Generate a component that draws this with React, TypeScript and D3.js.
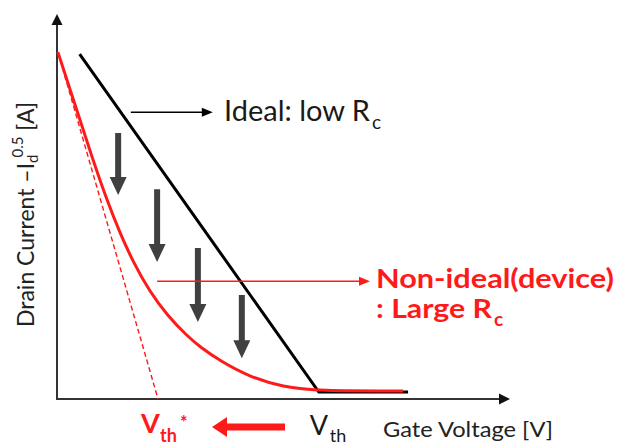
import React from "react";
import * as d3 from "d3";

// Ideal (low contact resistance) transfer curve: gate voltage vs sqrt(-Id)
const idealVg = [0.5, 5.78, 7.75];
const idealId = [8.96, 0.18, 0.18];

// Non-ideal device with large contact resistance
const deviceVg = [0.02, 0.4, 0.77, 1.1, 1.39, 1.68, 2.05, 2.43, 2.87, 3.16, 3.6, 4.26, 4.99, 5.76, 7.64];
const deviceId = [9.01, 7.64, 6.29, 5.17, 4.31, 3.56, 2.78, 2.18, 1.64, 1.35, 0.99, 0.57, 0.31, 0.21, 0.21];

// Linear extrapolation of the device curve down to the voltage axis
const tangentVg = [0.02, 2.23];
const tangentId = [9.01, 0];

// Downward shift arrows between the two curves
const shiftVg = [1.35, 2.21, 3.11, 4.08];
const shiftFrom = [6.91, 5.45, 3.92, 2.7];
const shiftTo = [5.3, 3.56, 2.0, 1.06];

// Pointer arrows to the curve labels: [x0, x1, y]
const idealPointer = [1.63, 3.44, 7.45];
const devicePointer = [2.21, 6.91, 3.06];

const W = 617;
const H = 446;
const FONT = "Lato, 'Open Sans', sans-serif";
const RED = "#ff1a1a";

export default function App() {
  const x = d3.scaleLinear().domain([0, 10]).range([57, 510]);
  const y = d3.scaleLinear().domain([0, 10]).range([399, 14]);

  const line = d3
    .line<[number, number]>()
    .x((d) => x(d[0]))
    .y((d) => y(d[1]));
  const smooth = d3
    .line<[number, number]>()
    .x((d) => x(d[0]))
    .y((d) => y(d[1]))
    .curve(d3.curveBasis);

  const idealPts = idealVg.map((v, i) => [v, idealId[i]] as [number, number]);
  const devicePts = deviceVg.map((v, i) => [v, deviceId[i]] as [number, number]);
  const tangentPts = tangentVg.map((v, i) => [v, tangentId[i]] as [number, number]);

  const x0 = x(0);
  const y0 = y(0);
  const xEnd = x(10);
  const yEnd = y(10);

  const thinArrow = (p: number[], color: string, key: string) => {
    const ax0 = x(p[0]);
    const ax1 = x(p[1]);
    const ay = y(p[2]);
    return (
      <g key={key}>
        <line x1={ax0} x2={ax1 - 8} y1={ay} y2={ay} stroke={color} strokeWidth={1.6} />
        <path d={`M${ax1},${ay} L${ax1 - 11},${ay - 4.5} L${ax1 - 11},${ay + 4.5} Z`} fill={color} />
      </g>
    );
  };

  const vStarX = x(tangentVg[1]);
  const vIdealX = x(idealVg[1]);

  return (
    <svg
      width={W}
      height={H}
      viewBox={`0 0 ${W} ${H}`}
      style={{ position: "absolute", left: 0, top: 0, background: "#fff" }}
      fontFamily={FONT}
    >
      {/* axes */}
      <line x1={x0} x2={x0} y1={y0 + 1} y2={yEnd + 9} stroke="#333" strokeWidth={2} />
      <path d={`M${x0},${yEnd} L${x0 - 5.5},${yEnd + 11} L${x0 + 5.5},${yEnd + 11} Z`} fill="#111" />
      <line x1={x0 - 1} x2={xEnd - 9} y1={y0} y2={y0} stroke="#333" strokeWidth={2} />
      <path d={`M${xEnd},${y0} L${xEnd - 11},${y0 - 5.5} L${xEnd - 11},${y0 + 5.5} Z`} fill="#111" />

      {/* extrapolation */}
      <path d={line(tangentPts) ?? ""} fill="none" stroke={RED} strokeWidth={1.4} strokeDasharray="5 3" />

      {/* curves */}
      <path d={line(idealPts) ?? ""} fill="none" stroke="#000" strokeWidth={3} />
      <path d={smooth(devicePts) ?? ""} fill="none" stroke={RED} strokeWidth={3} />

      {/* shift arrows */}
      {shiftVg.map((v, i) => {
        const cx = x(v);
        const top = y(shiftFrom[i]);
        const tip = y(shiftTo[i]);
        const hl = 18;
        const hw = 8.5;
        const sw = 3;
        return (
          <path
            key={`s${i}`}
            d={`M${cx - sw},${top} L${cx + sw},${top} L${cx + sw},${tip - hl} L${cx + hw},${tip - hl} L${cx},${tip} L${cx - hw},${tip - hl} L${cx - sw},${tip - hl} Z`}
            fill="#404040"
          />
        );
      })}

      {thinArrow(idealPointer, "#000", "ip")}
      {thinArrow(devicePointer, RED, "dp")}

      {/* curve labels */}
      <text x={224} y={121} fontSize={28} fill="#1a1a1a" textLength={146} lengthAdjust="spacingAndGlyphs">
        Ideal: low R
      </text>
      <text x={372} y={129} fontSize={19} fill="#1a1a1a">c</text>

      <text x={376} y={288} fontSize={26} fontWeight="bold" fill={RED} textLength={238} lengthAdjust="spacingAndGlyphs">
        Non-ideal(device)
      </text>
      <text x={376} y={318} fontSize={26} fontWeight="bold" fill={RED} textLength={116} lengthAdjust="spacingAndGlyphs">
        : Large R
      </text>
      <text x={494} y={326} fontSize={19} fontWeight="bold" fill={RED}>c</text>

      {/* threshold labels */}
      <text x={vStarX - 17} y={433} fontSize={27} fontWeight="bold" fill={RED}>V</text>
      <text x={vStarX + 2} y={442} fontSize={18} fontWeight="bold" fill={RED}>th</text>
      <text x={vStarX + 22} y={429} fontSize={18} fontWeight="bold" fill={RED}>*</text>
      <path d="M285,423.5 L227,423.5 L227,417 L212,427 L227,437 L227,430.5 L285,430.5 Z" fill={RED} />

      <text x={vIdealX - 9} y={435} fontSize={27} fill="#1a1a1a">V</text>
      <text x={vIdealX + 11} y={442} fontSize={18} fill="#1a1a1a">th</text>

      <text x={383} y={437} fontSize={22} fill="#222" textLength={170} lengthAdjust="spacingAndGlyphs">
        Gate Voltage [V]
      </text>

      {/* y-axis title */}
      <text transform="translate(34,327) rotate(-90)" fontSize={23} fill="#222">
        <tspan>Drain Current –I</tspan>
        <tspan fontSize={15} dy={4}>d</tspan>
        <tspan fontSize={15} dx={-3} dy={-15}>0.5</tspan>
        <tspan dy={11}> [A]</tspan>
      </text>
    </svg>
  );
}
